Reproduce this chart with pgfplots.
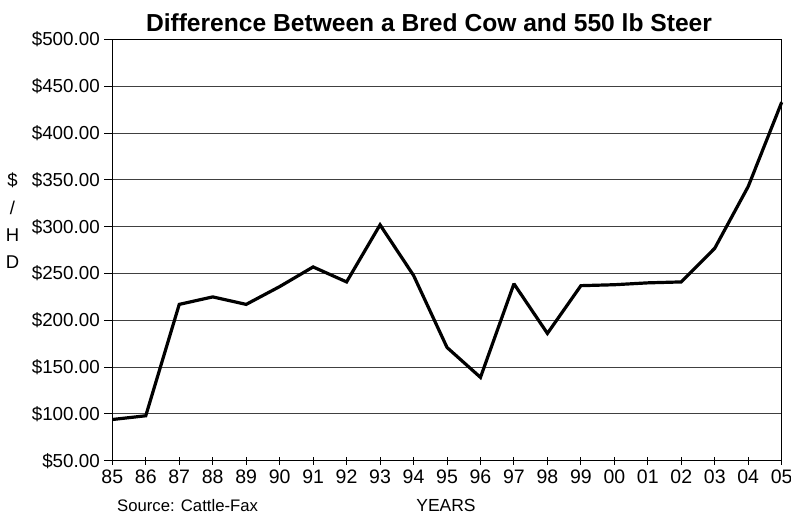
\documentclass[border=0pt]{standalone}
\usepackage{pgfplots}
\pgfplotsset{compat=1.18}
\usepackage{fontspec}
\setmainfont{Liberation Sans}
\begin{document}
\begin{tikzpicture}
\useasboundingbox (-112.3pt,-57.3pt) rectangle (678.7pt,460.7pt);
\begin{axis}[
  scale only axis,
  width=669.4pt, height=421.2pt,
  xmin=0, xmax=20, ymin=50, ymax=500,
  xtick={0,...,20},
  xticklabels={85,86,87,88,89,90,91,92,93,94,95,96,97,98,99,00,01,02,03,04,05},
  ytick={50,100,...,500},
  yticklabels={\$50.00,\$100.00,\$150.00,\$200.00,\$250.00,\$300.00,\$350.00,\$400.00,\$450.00,\$500.00},
  /pgf/number format/assume math mode=true,
  xticklabel style={font=\fontsize{19.5}{22}\selectfont, anchor=base, yshift=-19pt},
  yticklabel style={font=\fontsize{18.8}{22}\selectfont, anchor=east, xshift=-1pt},
  ymajorgrids,
  grid style={black!75, line width=0.8pt},
  axis line style={black, line width=1.5pt},
  x tick style={black, line width=1pt},
  y tick style={black, line width=1pt},
  major tick length=8pt,
  xtick align=center,
  ytick align=outside,
  ytick pos=left, xtick pos=bottom,
  clip=false,
]
\addplot[black, line width=3.2pt, line join=miter, miter limit=2] coordinates {
(0,94) (1,98) (2,217) (3,225) (4,217) (5,236) (6,257) (7,241) (8,302) (9,248)
(10,171) (11,139) (12,239) (13,186) (14,237) (15,238) (16,240) (17,241) (18,277) (19,343) (20,433)
};
\end{axis}
\node[font=\fontsize{24.6}{28}\selectfont\bfseries, anchor=base] at (316.7pt,429pt) {Difference Between a Bred Cow and 550 lb Steer};
\node[font=\fontsize{18.5}{27.3}\selectfont, align=center] at (-99.8pt,239.7pt) {\$\\/\\H\\D};
\node[font=\fontsize{17.5}{20}\selectfont, anchor=base] at (333.7pt,-51pt) {YEARS};
\node[font=\fontsize{16.7}{19}\selectfont, anchor=base west, inner sep=0pt] at (4.7pt,-51pt) {Source: Cattle-Fax};
\end{tikzpicture}
\end{document}
